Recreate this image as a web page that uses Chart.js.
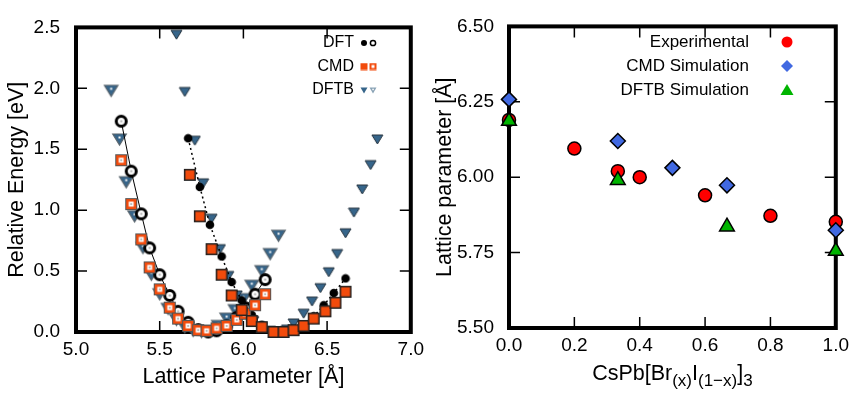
<!DOCTYPE html>
<html>
<head>
<meta charset="utf-8">
<script src="https://cdn.jsdelivr.net/npm/chart.js@4"></script>
<style>
  body { margin: 0; background: #fff; }
  #left { position: absolute; left: 0; top: 0; width: 430px; height: 394px; }
  #right { position: absolute; left: 430px; top: 0; width: 425px; height: 394px; }
</style>
</head>
<body>
<div id="left"><canvas id="energyChart"></canvas></div>
<div id="right"><canvas id="latticeChart"></canvas></div>
<script>
  // left panel: energy vs lattice parameter
  const dftOpenA = [5.27, 5.33, 5.39, 5.44, 5.50, 5.56, 5.61, 5.67, 5.73, 5.79, 5.84, 5.90, 5.96, 6.01, 6.07, 6.13];
  const dftOpenE = [1.73, 1.32, 0.97, 0.69, 0.47, 0.30, 0.17, 0.08, 0.02, 0.00, 0.01, 0.05, 0.12, 0.20, 0.31, 0.43];
  const cmdOpenA = [5.27, 5.33, 5.39, 5.44, 5.50, 5.56, 5.61, 5.67, 5.73, 5.78, 5.84, 5.90, 5.96, 6.01, 6.07, 6.13];
  const cmdOpenE = [1.41, 1.05, 0.76, 0.53, 0.35, 0.20, 0.11, 0.05, 0.015, 0.01, 0.03, 0.05, 0.10, 0.15, 0.22, 0.31];
  const dftbOpenA = [5.21, 5.26, 5.30, 5.35, 5.40, 5.45, 5.50, 5.55, 5.60, 5.65, 5.70, 5.75, 5.80, 5.85, 5.90, 5.95, 6.00, 6.05, 6.11, 6.16, 6.21];
  const dftbOpenE = [1.98, 1.58, 1.23, 0.95, 0.69, 0.47, 0.31, 0.19, 0.10, 0.04, 0.01, 0.00, 0.01, 0.05, 0.11, 0.18, 0.27, 0.38, 0.50, 0.64, 0.79];

  const dftFullA = [5.67, 5.74, 5.80, 5.87, 5.93, 5.99, 6.05, 6.11, 6.17, 6.23, 6.30, 6.36, 6.42, 6.48, 6.54, 6.61];
  const dftFullE = [1.59, 1.19, 0.88, 0.62, 0.41, 0.26, 0.14, 0.06, 0.01, 0.00, 0.02, 0.06, 0.13, 0.22, 0.32, 0.44];
  const cmdFullA = [5.68, 5.74, 5.81, 5.87, 5.93, 5.99, 6.05, 6.11, 6.18, 6.24, 6.30, 6.36, 6.42, 6.49, 6.55, 6.61];
  const cmdFullE = [1.29, 0.95, 0.68, 0.47, 0.30, 0.18, 0.09, 0.04, 0.00, 0.00, 0.015, 0.05, 0.11, 0.17, 0.24, 0.33];
  const dftbFullA = [5.60, 5.65, 5.71, 5.76, 5.81, 5.86, 5.91, 5.96, 6.01, 6.06, 6.11, 6.16, 6.21, 6.26, 6.30, 6.36, 6.41, 6.46, 6.51, 6.56, 6.61, 6.66, 6.71, 6.76, 6.80];
  const dftbFullE = [2.44, 1.97, 1.57, 1.22, 0.93, 0.68, 0.46, 0.30, 0.18, 0.09, 0.04, 0.01, 0.00, 0.02, 0.07, 0.15, 0.25, 0.36, 0.49, 0.64, 0.81, 0.98, 1.17, 1.37, 1.58];

  // right panel: lattice parameter vs composition
  const expX = [0, 0.2, 0.333, 0.4, 0.6, 0.8, 1.0];
  const expY = [6.19, 6.095, 6.02, 6.00, 5.94, 5.872, 5.852];
  const cmdX = [0, 0.333, 0.5, 0.667, 1.0];
  const cmdY = [6.258, 6.12, 6.031, 5.973, 5.824];
  const dftbX = [0, 0.333, 0.667, 1.0];
  const dftbY = [6.186, 5.99, 5.836, 5.755];

  const FONT = '"Liberation Sans", Arial, sans-serif';
  Chart.defaults.font.family = FONT;
  Chart.defaults.color = '#000';

  const pts = (xs, ys) => xs.map((x, i) => ({ x: x, y: ys[i] }));

  function mk(size, fn) {
    const c = document.createElement('canvas');
    c.width = c.height = size;
    fn(c.getContext('2d'), size / 2);
    return c;
  }
  function downTri(g, cx, top, w, h) {
    g.beginPath();
    g.moveTo(cx - w / 2, top);
    g.lineTo(cx + w / 2, top);
    g.lineTo(cx, top + h);
    g.closePath();
  }

  const ORANGE = '#f24b0c';
  const STEEL = '#36658a';

  const dftFilledMark = mk(10, (g, h) => { g.fillStyle = '#000'; g.beginPath(); g.arc(h, h, 4.3, 0, 7); g.fill(); });
  const dftOpenMark = mk(15, (g, h) => { g.fillStyle = '#fff'; g.strokeStyle = '#000'; g.lineWidth = 3; g.beginPath(); g.arc(h, h, 5, 0, 7); g.fill(); g.stroke(); g.fillStyle = '#aaa'; g.fillRect(h - 1, h - 1, 2, 2); });
  const cmdFilledMark = mk(14, g => { g.fillStyle = '#222'; g.fillRect(1, 1, 12, 12); g.fillStyle = ORANGE; g.fillRect(2.5, 2.5, 9, 9); });
  const cmdOpenMark = mk(14, g => { g.fillStyle = '#555'; g.fillRect(1, 1, 12, 12); g.fillStyle = ORANGE; g.fillRect(2, 2, 10, 10); g.fillStyle = '#fff'; g.fillRect(4.5, 4.5, 5, 5); g.fillStyle = '#bbb'; g.fillRect(6, 6, 2, 2); });
  const dftbFullMark = mk(13, g => { g.fillStyle = STEEL; g.strokeStyle = '#26343f'; g.lineWidth = 1; downTri(g, 6.5, 2, 11, 9); g.fill(); g.stroke(); });
  const dftbOpenMark = mk(17, g => { g.fillStyle = STEEL; g.strokeStyle = '#56626b'; g.lineWidth = 1.2; downTri(g, 8.5, 3, 13.5, 11); g.fill(); g.stroke(); g.fillStyle = '#fff'; g.fillRect(7.5, 5.5, 2, 2); });

  // small legend versions
  const lgDftFull = mk(8, (g, h) => { g.fillStyle = '#000'; g.beginPath(); g.arc(h, h, 3, 0, 7); g.fill(); });
  const lgDftOpen = mk(8, (g, h) => { g.strokeStyle = '#000'; g.lineWidth = 1.5; g.beginPath(); g.arc(h, h, 2.6, 0, 7); g.stroke(); });
  const lgCmdFull = mk(8, g => { g.fillStyle = ORANGE; g.fillRect(0.5, 0.5, 7, 7); });
  const lgCmdOpen = mk(8, g => { g.fillStyle = ORANGE; g.fillRect(0.5, 0.5, 7, 7); g.fillStyle = '#fff'; g.fillRect(2.5, 2.5, 3, 3); });
  const lgDftbFull = mk(8, g => { g.fillStyle = STEEL; downTri(g, 4, 1.5, 7, 6); g.fill(); });
  const lgDftbOpen = mk(8, g => { g.fillStyle = '#8aa3b6'; downTri(g, 4, 1.5, 7, 6); g.fill(); g.fillStyle = '#fff'; g.fillRect(3.3, 2.7, 1.5, 1.5); });

  const legendRows = [
    { label: 'DFT', marks: [lgDftFull, lgDftOpen] },
    { label: 'CMD', marks: [lgCmdFull, lgCmdOpen] },
    { label: 'DFTB', marks: [lgDftbFull, lgDftbOpen] }
  ];

  const framePlugin = {
    id: 'frame',
    beforeDatasetsDraw(chart) {
      const { ctx, chartArea: a, scales } = chart;
      ctx.save();
      ctx.strokeStyle = '#000';
      ctx.lineWidth = 1.5;
      ctx.beginPath();
      scales.x.ticks.forEach(t => {
        const px = scales.x.getPixelForValue(t.value);
        ctx.moveTo(px, a.bottom); ctx.lineTo(px, a.bottom - 11);
        ctx.moveTo(px, a.top); ctx.lineTo(px, a.top + 11);
      });
      scales.y.ticks.forEach(t => {
        const py = scales.y.getPixelForValue(t.value);
        ctx.moveTo(a.left, py); ctx.lineTo(a.left + 11, py);
        ctx.moveTo(a.right, py); ctx.lineTo(a.right - 11, py);
      });
      ctx.stroke();
      ctx.lineWidth = 4;
      ctx.strokeRect(a.left, a.top, a.right - a.left, a.bottom - a.top);
      ctx.restore();
    }
  };

  const energyLegend = {
    id: 'energyLegend',
    afterDraw(chart) {
      const ctx = chart.ctx;
      ctx.save();
      ctx.font = '16px ' + FONT;
      ctx.fillStyle = '#000';
      ctx.textAlign = 'right';
      ctx.textBaseline = 'middle';
      legendRows.forEach((row, i) => {
        const y = 43 + i * 23.5;
        ctx.fillText(row.label, 354, y);
        ctx.drawImage(row.marks[0], 364 - 4, y - 4);
        ctx.drawImage(row.marks[1], 373 - 4, y - 4);
      });
      ctx.restore();
    }
  };

  new Chart(document.getElementById('energyChart'), {
    type: 'scatter',
    data: {
      datasets: [
        { label: 'DFTB b', data: pts(dftbFullA, dftbFullE), pointStyle: dftbFullMark, pointRadius: 5, order: 3 },
        { label: 'DFTB a', data: pts(dftbOpenA, dftbOpenE), pointStyle: dftbOpenMark, pointRadius: 5, order: 3 },
        { label: 'DFT b', data: pts(dftFullA, dftFullE), pointStyle: dftFilledMark, pointRadius: 5, showLine: true,
          borderColor: '#000', borderWidth: 1.5, borderDash: [2, 3], order: 2 },
        { label: 'DFT a', data: pts(dftOpenA, dftOpenE), pointStyle: dftOpenMark, pointRadius: 5, showLine: true,
          borderColor: '#000', borderWidth: 1, order: 2 },
        { label: 'CMD b', data: pts(cmdFullA, cmdFullE), pointStyle: cmdFilledMark, pointRadius: 5, order: 1 },
        { label: 'CMD a', data: pts(cmdOpenA, cmdOpenE), pointStyle: cmdOpenMark, pointRadius: 5, order: 1 }
      ]
    },
    options: {
      responsive: true,
      maintainAspectRatio: false,
      animation: false,
      events: [],
      clip: false,
      layout: { padding: { top: 10, right: 17, left: 0, bottom: 0 } },
      plugins: { legend: { display: false }, tooltip: { enabled: false } },
      scales: {
        x: {
          min: 5, max: 7,
          grid: { display: false, drawTicks: false },
          border: { display: false },
          ticks: { stepSize: 0.5, padding: 6, font: { size: 19 }, callback: v => v.toFixed(1) },
          title: { display: true, text: 'Lattice Parameter [Å]', font: { size: 21.5 }, padding: { bottom: 4, top: 0 } },
          afterFit: s => { s.height = 62; }
        },
        y: {
          min: 0, max: 2.5,
          grid: { display: false, drawTicks: false },
          border: { display: false },
          ticks: { stepSize: 0.5, padding: 16, font: { size: 19 }, callback: v => v.toFixed(1) },
          title: { display: true, text: 'Relative Energy [eV]', font: { size: 21.5 }, padding: { top: 4, bottom: 0 } },
          afterFit: s => { s.width = 76; }
        }
      }
    },
    plugins: [framePlugin, energyLegend]
  });

  const latticeLegend = {
    id: 'latticeLegend',
    afterDraw(chart) {
      const ctx = chart.ctx;
      ctx.save();
      ctx.font = '17px ' + FONT;
      ctx.textAlign = 'right';
      ctx.textBaseline = 'middle';
      const rows = ['Experimental', 'CMD Simulation', 'DFTB Simulation'];
      const mx = 357;
      rows.forEach((t, i) => {
        const y = 42 + i * 24;
        ctx.fillStyle = '#000';
        ctx.fillText(t, 319, y);
        ctx.beginPath();
        if (i === 0) {
          ctx.fillStyle = '#ff0000';
          ctx.arc(mx, y, 5.5, 0, 7);
        } else if (i === 1) {
          ctx.fillStyle = '#4169e1';
          ctx.moveTo(mx, y - 6); ctx.lineTo(mx + 6, y); ctx.lineTo(mx, y + 6); ctx.lineTo(mx - 6, y); ctx.closePath();
        } else {
          ctx.fillStyle = '#00b400';
          ctx.moveTo(mx, y - 6); ctx.lineTo(mx + 6.5, y + 5); ctx.lineTo(mx - 6.5, y + 5); ctx.closePath();
        }
        ctx.fill();
      });
      ctx.restore();
    }
  };

  const compositionTitle = {
    id: 'compositionTitle',
    afterDraw(chart) {
      const { ctx, chartArea: a } = chart;
      const parts = [['CsPb[Br', 0], ['(x)', 1], ['I', 0], ['(1\u2212x)', 1], [']', 0], ['3', 1]];
      const big = '21.5px ' + FONT, small = '17px ' + FONT;
      ctx.save();
      let w = 0;
      parts.forEach(p => { ctx.font = p[1] ? small : big; w += ctx.measureText(p[0]).width; });
      let x = (a.left + a.right) / 2 - w / 2;
      ctx.fillStyle = '#000';
      ctx.textAlign = 'left';
      ctx.textBaseline = 'alphabetic';
      parts.forEach(p => {
        ctx.font = p[1] ? small : big;
        ctx.fillText(p[0], x, p[1] ? 386 : 380);
        x += ctx.measureText(p[0]).width;
      });
      ctx.restore();
    }
  };

  new Chart(document.getElementById('latticeChart'), {
    type: 'scatter',
    data: {
      datasets: [
        { label: 'DFTB Simulation', data: pts(dftbX, dftbY), pointStyle: 'triangle', pointRadius: 8.5,
          backgroundColor: '#00b400', borderColor: '#000', borderWidth: 1.5, order: 1 },
        { label: 'CMD Simulation', data: pts(cmdX, cmdY), pointStyle: 'rectRot', pointRadius: 7.5,
          backgroundColor: '#4169e1', borderColor: '#000', borderWidth: 1.5, order: 2 },
        { label: 'Experimental', data: pts(expX, expY), pointStyle: 'circle', pointRadius: 6.5,
          backgroundColor: '#ff0000', borderColor: '#000', borderWidth: 1.5, order: 3 }
      ]
    },
    options: {
      responsive: true,
      maintainAspectRatio: false,
      animation: false,
      events: [],
      clip: false,
      layout: { padding: { top: 15, right: 15, left: 0, bottom: 0 } },
      plugins: { legend: { display: false }, tooltip: { enabled: false } },
      scales: {
        x: {
          min: 0, max: 1,
          grid: { display: false, drawTicks: false },
          border: { display: false },
          ticks: { stepSize: 0.2, padding: 6, font: { size: 19 }, callback: v => v.toFixed(1) },
          title: { display: false },
          afterFit: s => { s.height = 66; }
        },
        y: {
          min: 5.5, max: 6.5,
          grid: { display: false, drawTicks: false },
          border: { display: false },
          ticks: { stepSize: 0.25, padding: 15, font: { size: 19 }, callback: v => v.toFixed(2) },
          title: { display: true, text: 'Lattice parameter [Å]', font: { size: 21.5 }, padding: { top: 2, bottom: 0 } },
          afterFit: s => { s.width = 79; }
        }
      }
    },
    plugins: [framePlugin, latticeLegend, compositionTitle]
  });
</script>
</body>
</html>
